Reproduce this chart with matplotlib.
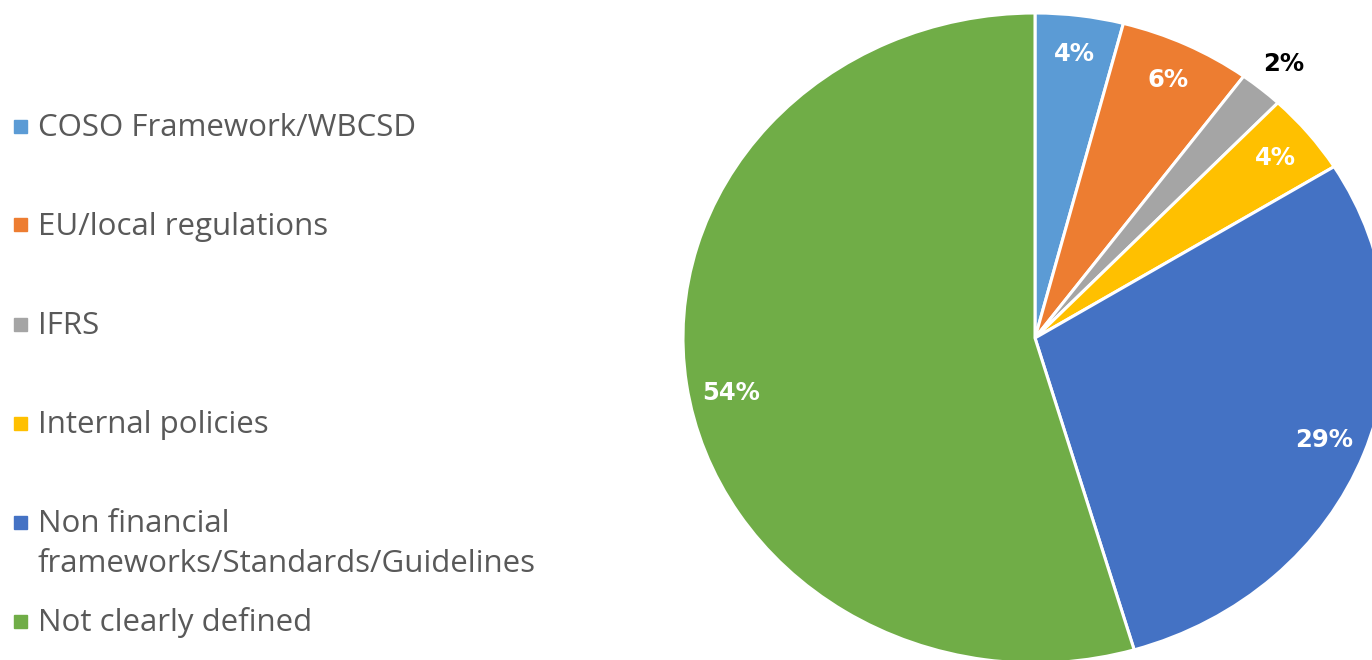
import matplotlib.pyplot as plt
from matplotlib.patches import Rectangle
import numpy as np

labels = ["COSO Framework/WBCSD", "EU/local regulations", "IFRS", "Internal policies",
          "Non financial\nframeworks/Standards/Guidelines", "Not clearly defined"]
values = [4, 6, 2, 4, 29, 54]
colors = ["#5B9BD5", "#ED7D31", "#A5A5A5", "#FFC000", "#4472C4", "#70AD47"]

W, H = 1372, 660
fig = plt.figure(figsize=(W / 100, H / 100), dpi=100)

# pie axes: stretched a bit wider than tall, running off the right and bottom edges
cx, cy, rx, ry = 1035, 338, 352, 325
ax = fig.add_axes([(cx - rx) / W, (H - cy - ry) / H, 2 * rx / W, 2 * ry / H])
wedges, _ = ax.pie(values, colors=colors, startangle=90, counterclock=False,
                   wedgeprops=dict(edgecolor="white", linewidth=2.2))
ax.set_aspect("auto")
ax.set_xlim(-1, 1)
ax.set_ylim(-1, 1)
ax.axis("off")

for w, v in zip(wedges, values):
    mid = (w.theta1 + w.theta2) / 2
    if v < 3:
        r, col = 1.1, "black"
    else:
        r, col = 0.88, "white"
    if v > 50:
        mid += 3  # big slice: label sits a little lower
    mid = np.deg2rad(mid)
    ax.text(r * np.cos(mid), r * np.sin(mid), f"{v}%", ha="center", va="center",
            color=col, fontsize=17.5, fontweight="bold", family="DejaVu Sans",
            clip_on=False)

# legend on the left
for i, (lab, c) in enumerate(zip(labels, colors)):
    y = 126 + i * 99
    fig.patches.append(Rectangle((14 / W, (H - y - 6.5) / H), 13 / W, 13 / H,
                                 transform=fig.transFigure, color=c))
    ty = y + 2 + 20 * lab.count("\n")
    fig.text(38 / W, (H - ty) / H, lab, ha="left", va="center",
             fontsize=22.5, color="#595959", family="Open Sans", linespacing=1.45)

fig.savefig("out.png", dpi=100)
